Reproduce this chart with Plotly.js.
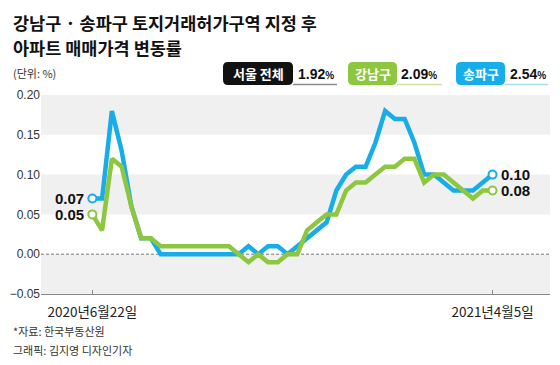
<!DOCTYPE html>
<html>
<head>
<meta charset="utf-8">
<script src="https://cdn.plot.ly/plotly-3.0.1.min.js"></script>
<style>
  html, body { margin: 0; padding: 0; background: #ffffff; }
  #chart { width: 560px; height: 365px; }
</style>
</head>
<body>
<div id="chart"></div>
<script>
// ---- data ----
const weeks = [
  '2020-06-22','2020-06-29','2020-07-06','2020-07-13','2020-07-20','2020-07-27',
  '2020-08-03','2020-08-10','2020-08-17','2020-08-24','2020-08-31','2020-09-07',
  '2020-09-14','2020-09-21','2020-09-28','2020-10-05','2020-10-12','2020-10-19',
  '2020-10-26','2020-11-02','2020-11-09','2020-11-16','2020-11-23','2020-11-30',
  '2020-12-07','2020-12-14','2020-12-21','2020-12-28','2021-01-04','2021-01-11',
  '2021-01-18','2021-01-25','2021-02-01','2021-02-08','2021-02-15','2021-02-22',
  '2021-03-01','2021-03-08','2021-03-15','2021-03-22','2021-03-29','2021-04-05'
];
const gangnam = [
  0.05, 0.03, 0.12, 0.11, 0.06, 0.02, 0.02, 0.01, 0.01, 0.01, 0.01, 0.01,
  0.01, 0.01, 0.01, 0.00, -0.01, 0.00, -0.01, -0.01, 0.00, 0.00, 0.03, 0.04,
  0.05, 0.05, 0.08, 0.09, 0.09, 0.10, 0.11, 0.11, 0.12, 0.12, 0.09, 0.10,
  0.10, 0.09, 0.08, 0.07, 0.08, 0.08
];
const songpa = [
  0.07, 0.07, 0.18, 0.13, 0.06, 0.02, 0.02, 0.00, 0.00, 0.00, 0.00, 0.00,
  0.00, 0.00, 0.00, 0.00, 0.01, 0.00, 0.01, 0.01, 0.00, 0.01, 0.02, 0.03,
  0.04, 0.08, 0.10, 0.11, 0.11, 0.14, 0.18, 0.17, 0.17, 0.14, 0.10, 0.10,
  0.09, 0.08, 0.08, 0.08, 0.09, 0.10
];
const xTickText = ['2020년6월22일', '2021년4월5일'];
const yTickVals = [-0.05, 0, 0.05, 0.10, 0.15, 0.20];
const yTickText = ['\u22120.05', '0.00', '0.05', '0.10', '0.15', '0.20'];
const legendNames = ['서울 전체', '강남구', '송파구'];
const legendTotals = ['1.92', '2.09', '2.54'];
const titleLines = ['강남구 · 송파구 토지거래허가구역 지정 후', '아파트 매매가격 변동률'];
const unitText = '(단위: %)';
const sourceLines = ['*자료: 한국부동산원', '그래픽: 김지영 디자인기자'];

// ---- style ----
const BLUE = '#17ade8';
const GREEN = '#8dc63f';
const BLACK = '#111111';
const KR = '"Noto Sans CJK KR", "Noto Sans", sans-serif';
const NUM = '"Liberation Sans", Arial, sans-serif';

const L = 41, T = 95, W = 509, H = 199;
const px = x => (x - L) / W;
const py = y => (T + H - y) / H;

function roundRect(x0, y0, x1, y1, r, color) {
  const a0 = px(x0), a1 = px(x1), b0 = py(y1), b1 = py(y0);
  const rx = r / W, ry = r / H;
  const p = `M ${a0 + rx},${b0} L ${a1 - rx},${b0} Q ${a1},${b0} ${a1},${b0 + ry} ` +
            `L ${a1},${b1 - ry} Q ${a1},${b1} ${a1 - rx},${b1} L ${a0 + rx},${b1} ` +
            `Q ${a0},${b1} ${a0},${b1 - ry} L ${a0},${b0 + ry} Q ${a0},${b0} ${a0 + rx},${b0} Z`;
  return { type: 'path', xref: 'paper', yref: 'paper', path: p,
           fillcolor: color, line: { width: 0 }, layer: 'above' };
}
function hline(x0, x1, y, color, w) {
  return { type: 'line', xref: 'paper', yref: 'paper', x0: px(x0), x1: px(x1),
           y0: py(y), y1: py(y), line: { color: color, width: w }, layer: 'above' };
}

const last = weeks.length - 1;

const traces = [
  { x: weeks, y: songpa, type: 'scatter', mode: 'lines', name: '송파구',
    line: { color: BLUE, width: 4.5, shape: 'linear' }, hoverinfo: 'skip' },
  { x: weeks, y: gangnam, type: 'scatter', mode: 'lines', name: '강남구',
    line: { color: GREEN, width: 4.5, shape: 'linear' }, hoverinfo: 'skip' },
  { x: [weeks[0], weeks[last]], y: [songpa[0], songpa[last]], type: 'scatter', mode: 'markers',
    marker: { size: 8, color: '#ffffff', line: { color: BLUE, width: 2 } }, hoverinfo: 'skip' },
  { x: [weeks[0], weeks[last]], y: [gangnam[0], gangnam[last]], type: 'scatter', mode: 'markers',
    marker: { size: 8, color: '#ffffff', line: { color: GREEN, width: 2 } }, hoverinfo: 'skip' }
];

const shapes = [
  { type: 'rect', xref: 'paper', yref: 'y', x0: 0, x1: 1, y0: 0.15, y1: 0.20,
    fillcolor: '#f0f0f0', line: { width: 0 }, layer: 'below' },
  { type: 'rect', xref: 'paper', yref: 'y', x0: 0, x1: 1, y0: 0.05, y1: 0.10,
    fillcolor: '#f0f0f0', line: { width: 0 }, layer: 'below' },
  { type: 'rect', xref: 'paper', yref: 'y', x0: 0, x1: 1, y0: -0.05, y1: 0.00,
    fillcolor: '#f0f0f0', line: { width: 0 }, layer: 'below' },
  { type: 'line', xref: 'paper', yref: 'y', x0: 0, x1: 1, y0: 0, y1: 0,
    line: { color: '#777777', width: 1, dash: '3px,2px' }, layer: 'below' },
  // legend boxes
  roundRect(223, 62, 293, 85, 5, BLACK),
  roundRect(348, 62, 397, 85, 5, GREEN),
  roundRect(456, 62, 505, 85, 5, BLUE),
  hline(293, 337, 84.5, '#8a8a8a', 1.5),
  hline(397, 442, 84.5, '#cfe0a8', 1.5),
  hline(505, 548, 84.5, '#a9dbf1', 1.5)
];

const ann = [];
ann.push({ xref: 'paper', yref: 'paper', x: px(12), y: py(22), xanchor: 'left', yanchor: 'middle',
  borderpad: 0, text: '<b>' + titleLines[0] + '</b>', showarrow: false,
  font: { family: KR, size: 17.5, color: '#111' } });
ann.push({ xref: 'paper', yref: 'paper', x: px(12), y: py(48), xanchor: 'left', yanchor: 'middle',
  borderpad: 0, text: '<b>' + titleLines[1] + '</b>', showarrow: false,
  font: { family: KR, size: 17.5, color: '#111' } });
ann.push({ xref: 'paper', yref: 'paper', x: px(11), y: py(73), xanchor: 'left', yanchor: 'middle',
  text: unitText, showarrow: false, font: { family: KR, size: 11, color: '#333' } });

const boxCenters = [258, 372.5, 480.5];
const totalLeft = [296, 399, 508];
for (let i = 0; i < 3; i++) {
  ann.push({ xref: 'paper', yref: 'paper', x: px(boxCenters[i]), y: py(73.5), xanchor: 'center', yanchor: 'middle',
    text: '<b>' + legendNames[i] + '</b>', showarrow: false, font: { family: KR, size: 13, color: '#ffffff' } });
  ann.push({ xref: 'paper', yref: 'paper', x: px(totalLeft[i]), y: py(74), xanchor: 'left', yanchor: 'middle',
    text: '<b>' + legendTotals[i] + "<span style='font-size:10px'>%</span></b>", showarrow: false,
    font: { family: NUM, size: 14, color: '#111' } });
}

// end value labels
ann.push({ x: weeks[0], y: songpa[0], xref: 'x', yref: 'y', xanchor: 'right', yanchor: 'middle', xshift: -6,
  text: '<b>' + songpa[0].toFixed(2) + '</b>', showarrow: false, font: { family: NUM, size: 15, color: '#111' } });
ann.push({ x: weeks[0], y: gangnam[0], xref: 'x', yref: 'y', xanchor: 'right', yanchor: 'middle', xshift: -6,
  text: '<b>' + gangnam[0].toFixed(2) + '</b>', showarrow: false, font: { family: NUM, size: 15, color: '#111' } });
ann.push({ x: weeks[last], y: songpa[last], xref: 'x', yref: 'y', xanchor: 'left', yanchor: 'middle', xshift: 6,
  text: '<b>' + songpa[last].toFixed(2) + '</b>', showarrow: false, font: { family: NUM, size: 15, color: '#111' } });
ann.push({ x: weeks[last], y: gangnam[last], xref: 'x', yref: 'y', xanchor: 'left', yanchor: 'middle', xshift: 6,
  text: '<b>' + gangnam[last].toFixed(2) + '</b>', showarrow: false, font: { family: NUM, size: 15, color: '#111' } });

ann.push({ xref: 'paper', yref: 'paper', x: px(11), y: py(331), xanchor: 'left', yanchor: 'middle',
  text: sourceLines[0], showarrow: false, font: { family: KR, size: 11, color: '#333' } });
ann.push({ xref: 'paper', yref: 'paper', x: px(11), y: py(350), xanchor: 'left', yanchor: 'middle',
  text: sourceLines[1], showarrow: false, font: { family: KR, size: 11, color: '#333' } });

const layout = {
  width: 560, height: 365,
  margin: { l: L, r: 560 - L - W, t: T, b: 365 - T - H, pad: 0 },
  paper_bgcolor: '#ffffff', plot_bgcolor: 'rgba(0,0,0,0)',
  showlegend: false,
  xaxis: {
    type: 'category', range: [-5.26, 46.89], fixedrange: true,
    tickmode: 'array', tickvals: [weeks[0], weeks[last]], ticktext: xTickText,
    ticks: 'inside', ticklen: 4, tickcolor: '#888', tickwidth: 1,
    ticklabelstandoff: 6,
    showline: true, linecolor: '#888', linewidth: 1,
    showgrid: false, zeroline: false,
    tickfont: { family: KR, size: 13.5, color: '#222' }
  },
  yaxis: {
    range: [-0.05, 0.20], fixedrange: true,
    tickmode: 'array', tickvals: yTickVals, ticktext: yTickText,
    ticks: '', showline: false, showgrid: false, zeroline: false,
    tickfont: { family: NUM, size: 12, color: '#333' }
  },
  shapes: shapes,
  annotations: ann
};

Plotly.newPlot('chart', traces, layout, { staticPlot: true, displayModeBar: false });
</script>
</body>
</html>
